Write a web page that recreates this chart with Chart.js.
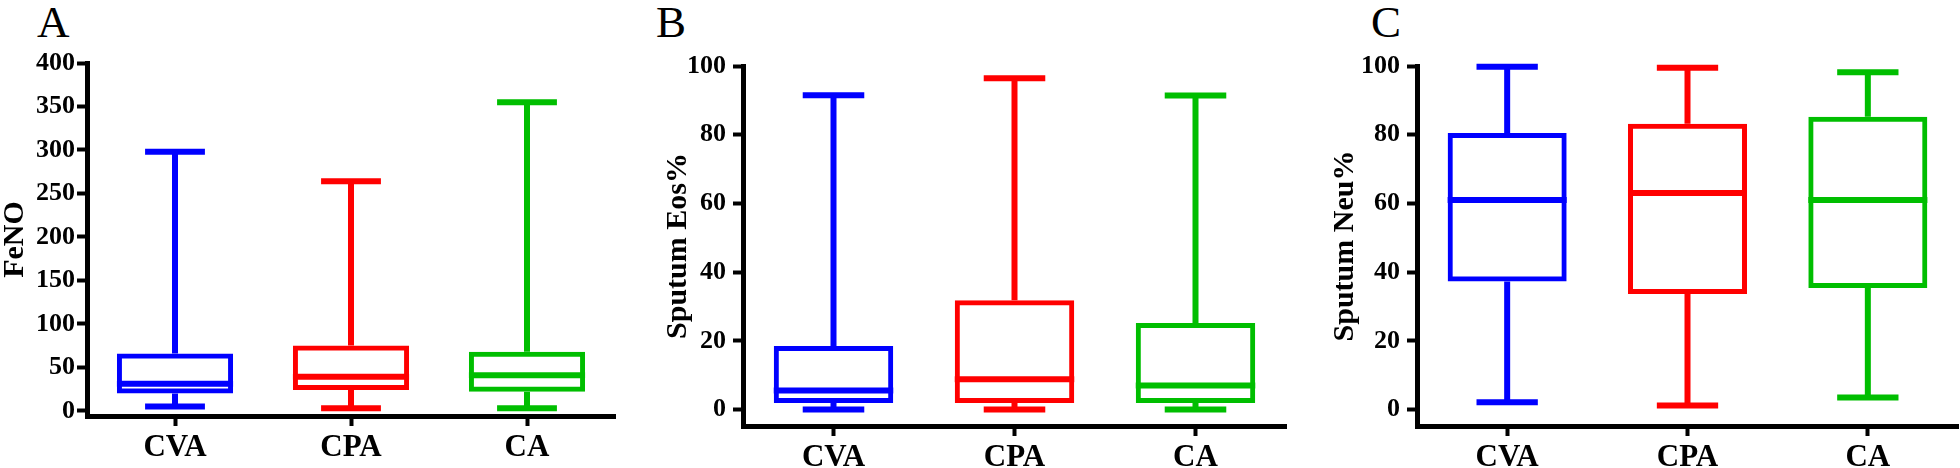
<!DOCTYPE html>
<html lang="en">
<head>
    <meta charset="UTF-8">
    <title>FeNO, Sputum Eos% and Sputum Neu% by group</title>
    <script src="https://cdn.jsdelivr.net/npm/chart.js"></script>
    <style>
        body {
            margin: 0;
            background: #fff;
        }
        .panel {
            position: absolute;
            top: 0;
        }
        .letter {
            position: absolute;
            top: 0;
            font-family: 'Liberation Serif', 'Times New Roman', serif;
            font-size: 45px;
            line-height: 1;
            color: #000;
        }
    </style>
</head>
<body>
    <div class="letter" style="left: 37px;">A</div>
    <div class="letter" style="left: 656px;">B</div>
    <div class="letter" style="left: 1371px;">C</div>

    <canvas id="chartA" class="panel" style="left: 0px;" width="650" height="468"></canvas>
    <canvas id="chartB" class="panel" style="left: 650px;" width="660" height="468"></canvas>
    <canvas id="chartC" class="panel" style="left: 1310px;" width="650" height="468"></canvas>

    <script>
        // groups on the x axis
        const groups = ['CVA', 'CPA', 'CA'];

        // A: FeNO
        const fenoMin = [5, 3, 3];
        const fenoQ1 = [20, 24, 22];
        const fenoMedian = [31, 39, 41];
        const fenoQ3 = [66, 75, 68];
        const fenoMax = [298, 264, 355];
        const fenoTicks = [0, 50, 100, 150, 200, 250, 300, 350, 400];

        // B: Sputum Eos%
        const eosMin = [0, 0, 0];
        const eosQ1 = [1.9, 1.9, 1.9];
        const eosMedian = [5.5, 8.8, 7];
        const eosQ3 = [18.5, 31.8, 25.2];
        const eosMax = [91.5, 96.4, 91.4];

        // C: Sputum Neu%
        const neuMin = [2.1, 1.2, 3.5];
        const neuQ1 = [37.3, 33.6, 35.4];
        const neuMedian = [61, 63, 61];
        const neuQ3 = [80.5, 83.2, 85.2];
        const neuMax = [99.8, 99.5, 98.2];

        const pctTicks = [0, 20, 40, 60, 80, 100];

        const colors = ['#0000FF', '#FF0000', '#00BE00'];
        const serif = "'Liberation Serif', 'Times New Roman', serif";

        // whiskers, caps and median lines on top of the floating-bar boxes
        function whiskerPlugin(stats) {
            return {
                id: 'whiskers',
                afterDatasetsDraw(chart) {
                    const { ctx, scales: { x, y } } = chart;
                    const step = x.getPixelForValue(1) - x.getPixelForValue(0);
                    ctx.save();
                    ctx.lineCap = 'butt';
                    groups.forEach((g, i) => {
                        const cx = x.getPixelForValue(i);
                        const boxHalf = step * 0.66 / 2;
                        const capHalf = step * 0.34 / 2;
                        ctx.strokeStyle = colors[i];
                        ctx.lineWidth = 6;
                        ctx.beginPath();
                        ctx.moveTo(cx, y.getPixelForValue(stats.q3[i]));
                        ctx.lineTo(cx, y.getPixelForValue(stats.max[i]));
                        ctx.moveTo(cx, y.getPixelForValue(stats.q1[i]));
                        ctx.lineTo(cx, y.getPixelForValue(stats.min[i]));
                        ctx.moveTo(cx - capHalf, y.getPixelForValue(stats.max[i]));
                        ctx.lineTo(cx + capHalf, y.getPixelForValue(stats.max[i]));
                        ctx.moveTo(cx - capHalf, y.getPixelForValue(stats.min[i]));
                        ctx.lineTo(cx + capHalf, y.getPixelForValue(stats.min[i]));
                        ctx.moveTo(cx - boxHalf, y.getPixelForValue(stats.median[i]));
                        ctx.lineTo(cx + boxHalf, y.getPixelForValue(stats.median[i]));
                        ctx.stroke();
                    });
                    ctx.restore();
                }
            };
        }

        function makePanel(id, stats, opt) {
            const ctx = document.getElementById(id).getContext('2d');
            new Chart(ctx, {
                type: 'bar',
                data: {
                    labels: groups,
                    datasets: [{
                        data: stats.q1.map((v, i) => [v, stats.q3[i]]),
                        backgroundColor: 'rgba(0,0,0,0)',
                        borderColor: colors,
                        borderWidth: 5,
                        borderSkipped: false,
                        categoryPercentage: 1,
                        barPercentage: 0.66
                    }]
                },
                plugins: [whiskerPlugin(stats)],
                options: {
                    responsive: false,
                    animation: false,
                    events: [],
                    layout: {
                        padding: { left: 0, top: opt.top, right: opt.right, bottom: 0 }
                    },
                    plugins: {
                        legend: { display: false },
                        tooltip: { enabled: false }
                    },
                    scales: {
                        x: {
                            offset: true,
                            afterFit: s => { s.height = opt.xHeight; },
                            border: { display: true, color: '#000', width: 5 },
                            grid: {
                                offset: false,
                                drawOnChartArea: false,
                                tickLength: 10,
                                tickWidth: 4,
                                tickColor: '#000'
                            },
                            ticks: {
                                color: '#000',
                                padding: 3,
                                font: { family: serif, size: 31, weight: 'bold' }
                            }
                        },
                        y: {
                            min: opt.min,
                            max: opt.max,
                            afterBuildTicks: s => { s.ticks = opt.ticks.map(v => ({ value: v })); },
                            afterFit: s => { s.width = opt.yWidth; },
                            border: { display: true, color: '#000', width: 5 },
                            grid: {
                                drawOnChartArea: false,
                                tickLength: 10,
                                tickWidth: 4,
                                tickColor: '#000'
                            },
                            ticks: {
                                color: '#000',
                                padding: opt.tickPad,
                                font: { family: serif, size: 26, weight: 'bold' }
                            },
                            title: {
                                display: true,
                                text: opt.title,
                                color: '#000',
                                padding: { top: opt.titlePad, bottom: 0 },
                                font: { family: serif, size: 30, weight: 'bold', lineHeight: 1 }
                            }
                        }
                    }
                }
            });
        }

        makePanel('chartA',
            { min: fenoMin, q1: fenoQ1, median: fenoMedian, q3: fenoQ3, max: fenoMax },
            { title: 'FeNO', min: -6, max: 400, ticks: fenoTicks, top: 63, right: 35,
              xHeight: 52, yWidth: 87, tickPad: 2, titlePad: 0 });

        makePanel('chartB',
            { min: eosMin, q1: eosQ1, median: eosMedian, q3: eosQ3, max: eosMax },
            { title: 'Sputum Eos%', min: -4.8, max: 100, ticks: pctTicks, top: 66, right: 24,
              xHeight: 42, yWidth: 93, tickPad: 7, titlePad: 13 });

        makePanel('chartC',
            { min: neuMin, q1: neuQ1, median: neuMedian, q3: neuQ3, max: neuMax },
            { title: 'Sputum Neu%', min: -4.8, max: 100, ticks: pctTicks, top: 66, right: 2,
              xHeight: 42, yWidth: 107, tickPad: 7, titlePad: 20 });
    </script>
</body>
</html>
